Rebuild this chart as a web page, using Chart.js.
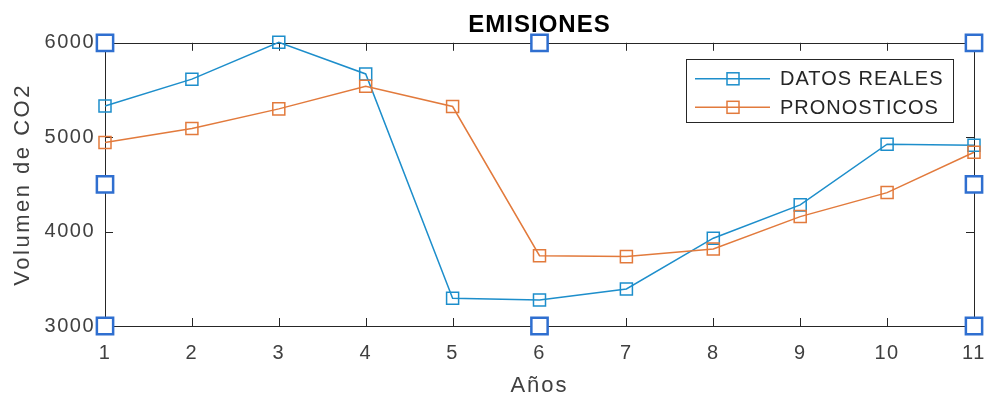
<!DOCTYPE html>
<html lang="es">
<head>
<meta charset="utf-8">
<title>EMISIONES</title>
<script src="https://cdn.jsdelivr.net/npm/chart.js@4.4.1/dist/chart.umd.min.js"></script>
<style>
  html, body { margin: 0; padding: 0; background: #ffffff; }
  canvas { display: block; }
</style>
</head>
<body>
<canvas id="chart" width="989" height="401"></canvas>
<script>
// Años (eje X)
const years = [1, 2, 3, 4, 5, 6, 7, 8, 9, 10, 11];
// Volumen de CO2 medido
const datosReales = [5330, 5615, 6005, 5670, 3295, 3276, 3392, 3930, 4283, 4926, 4915];
// Volumen de CO2 pronosticado
const pronosticos = [4943, 5092, 5300, 5540, 5325, 3745, 3735, 3816, 4159, 4413, 4840];
// Marcas del eje Y
const yTicks = [3000, 4000, 5000, 6000];
// Posiciones de los tiradores de selección del eje (x, y)
const handleX = [1, 6, 11];
const handleY = [3000, 4500, 6000];

const FONT = "'Liberation Sans', Arial, Helvetica, sans-serif";
const AXIS_COLOR = '#262626';
const TEXT_COLOR = '#404040';
const BLUE = '#1d8ecb';
const ORANGE = '#e27a3c';
const HANDLE = '#2f6fd0';

// Tiradores en esquinas y centros de lado (sin el centro del área)
const handlePoints = [];
handleX.forEach((x, i) => handleY.forEach((y, j) => {
  if (!(i === 1 && j === 1)) handlePoints.push({ x, y });
}));

// Escala lineal con espaciado de letras configurable en etiquetas y título
class SpacedLinearScale extends Chart.LinearScale {
  drawLabels(area) {
    const ctx = this.ctx;
    ctx.save();
    ctx.letterSpacing = this.options.labelSpacing || '0px';
    super.drawLabels(area);
    ctx.restore();
  }
  drawTitle() {
    const ctx = this.ctx;
    ctx.save();
    ctx.letterSpacing = this.options.titleSpacing || '0px';
    super.drawTitle();
    ctx.restore();
  }
}
SpacedLinearScale.id = 'spacedLinear';
SpacedLinearScale.defaults = Chart.LinearScale.defaults;
Chart.register(SpacedLinearScale);

// Caja de ejes con marcas hacia dentro en los cuatro lados
const axesBox = {
  id: 'axesBox',
  beforeDatasetsDraw(chart) {
    const { ctx, chartArea: a, scales: { x, y } } = chart;
    const tl = 8;
    ctx.save();
    ctx.strokeStyle = AXIS_COLOR;
    ctx.lineWidth = 1;
    ctx.beginPath();
    ctx.rect(Math.round(a.left) + 0.5, Math.round(a.top) + 0.5,
             Math.round(a.right - a.left), Math.round(a.bottom - a.top));
    x.ticks.forEach(t => {
      const px = Math.round(x.getPixelForValue(t.value)) + 0.5;
      ctx.moveTo(px, a.bottom); ctx.lineTo(px, a.bottom - tl);
      ctx.moveTo(px, a.top); ctx.lineTo(px, a.top + tl);
    });
    y.ticks.forEach(t => {
      const py = Math.round(y.getPixelForValue(t.value)) + 0.5;
      ctx.moveTo(a.left, py); ctx.lineTo(a.left + tl, py);
      ctx.moveTo(a.right, py); ctx.lineTo(a.right - tl, py);
    });
    ctx.stroke();
    ctx.restore();
  }
};

// Leyenda con recuadro en la esquina superior derecha del área de ejes
const boxLegend = {
  id: 'boxLegend',
  afterDraw(chart) {
    const { ctx, chartArea: a } = chart;
    const left = a.right - 288, top = a.top + 16, w = 267, h = 63;
    const items = chart.data.datasets.filter(d => d.inLegend);
    ctx.save();
    ctx.fillStyle = '#ffffff';
    ctx.fillRect(left, top, w, h);
    ctx.strokeStyle = AXIS_COLOR;
    ctx.lineWidth = 1;
    ctx.strokeRect(Math.round(left) + 0.5, Math.round(top) + 0.5, w, h);
    items.forEach((d, i) => {
      const cy = top + 20 + i * 28.5;
      ctx.strokeStyle = d.borderColor;
      ctx.lineWidth = 1.5;
      ctx.beginPath();
      ctx.moveTo(left + 9, cy); ctx.lineTo(left + 84, cy);
      ctx.stroke();
      ctx.strokeRect(left + 47 - 6, cy - 6, 12, 12);
      ctx.fillStyle = AXIS_COLOR;
      ctx.font = '20px ' + FONT;
      ctx.letterSpacing = '1px';
      ctx.textBaseline = 'middle';
      ctx.textAlign = 'left';
      ctx.fillText(d.label, left + 94, cy + 1);
    });
    ctx.restore();
  }
};

// Espaciado de letras del título general
const titleSpacing = {
  id: 'titleSpacing',
  beforeDraw(chart) { chart.ctx.letterSpacing = '1px'; }
};

new Chart(document.getElementById('chart'), {
  type: 'line',
  data: {
    datasets: [
      {
        label: 'DATOS REALES',
        inLegend: true,
        data: years.map((x, i) => ({ x, y: datosReales[i] })),
        borderColor: BLUE,
        backgroundColor: 'rgba(0,0,0,0)',
        borderWidth: 1.5,
        pointStyle: 'rect',
        pointRadius: 8.5,
        pointBorderWidth: 1.5,
        pointBackgroundColor: 'rgba(0,0,0,0)',
        pointBorderColor: BLUE,
        tension: 0,
        clip: false,
        order: 2
      },
      {
        label: 'PRONOSTICOS',
        inLegend: true,
        data: years.map((x, i) => ({ x, y: pronosticos[i] })),
        borderColor: ORANGE,
        backgroundColor: 'rgba(0,0,0,0)',
        borderWidth: 1.5,
        pointStyle: 'rect',
        pointRadius: 8.5,
        pointBorderWidth: 1.5,
        pointBackgroundColor: 'rgba(0,0,0,0)',
        pointBorderColor: ORANGE,
        tension: 0,
        clip: false,
        order: 1
      },
      {
        label: 'handles',
        inLegend: false,
        data: handlePoints,
        showLine: false,
        pointStyle: 'rect',
        pointRadius: 11.5,
        pointBorderWidth: 2.5,
        pointBackgroundColor: '#ffffff',
        pointBorderColor: HANDLE,
        clip: false,
        order: 0
      }
    ]
  },
  options: {
    responsive: false,
    animation: false,
    events: [],
    layout: { padding: { left: 0, right: 15, top: 0, bottom: 0 } },
    plugins: {
      legend: { display: false },
      tooltip: { enabled: false },
      title: {
        display: true,
        fullSize: false,
        text: 'EMISIONES',
        color: '#000000',
        font: { family: FONT, size: 24, weight: 'bold', lineHeight: 1.2 },
        padding: { top: 11, bottom: 3 }
      }
    },
    scales: {
      x: {
        type: 'spacedLinear',
        min: 1,
        max: 11,
        labelSpacing: '1.5px',
        titleSpacing: '2px',
        afterFit: s => { s.height = 75; s.paddingLeft = 0; s.paddingRight = 0; },
        grid: { display: false, drawTicks: false },
        border: { display: false },
        ticks: {
          stepSize: 1,
          padding: 15,
          color: TEXT_COLOR,
          font: { family: FONT, size: 20, lineHeight: 1.2 },
          callback: v => String(v)
        },
        title: {
          display: true,
          text: 'Años',
          color: TEXT_COLOR,
          font: { family: FONT, size: 22, lineHeight: 1.2 },
          padding: { top: 0, bottom: 2 }
        }
      },
      y: {
        type: 'spacedLinear',
        min: yTicks[0],
        max: yTicks[yTicks.length - 1],
        labelSpacing: '1.5px',
        titleSpacing: '2.5px',
        afterFit: s => { s.width = 105; s.paddingTop = 0; s.paddingBottom = 0; },
        afterBuildTicks: s => { s.ticks = yTicks.map(v => ({ value: v })); },
        grid: { display: false, drawTicks: false },
        border: { display: false },
        ticks: {
          padding: 10,
          color: TEXT_COLOR,
          font: { family: FONT, size: 20, lineHeight: 1.2 },
          callback: v => String(v)
        },
        title: {
          display: true,
          text: 'Volumen de CO2',
          color: TEXT_COLOR,
          font: { family: FONT, size: 22, lineHeight: 1.2 },
          padding: { top: 10, bottom: 0 }
        }
      }
    }
  },
  plugins: [titleSpacing, axesBox, boxLegend]
});
</script>
</body>
</html>
